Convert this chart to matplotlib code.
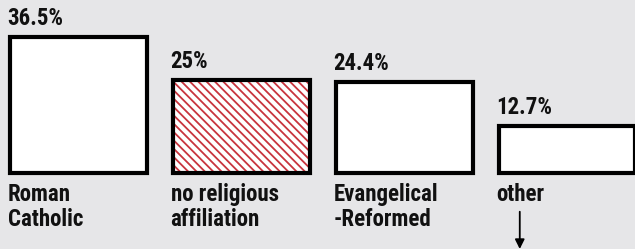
import matplotlib
matplotlib.use("Agg")
import matplotlib.pyplot as plt

categories = ["Roman\nCatholic", "no religious\naffiliation", "Evangelical\n-Reformed", "other"]
values = [36.5, 25.0, 24.4, 12.7]
value_labels = ["36.5%", "25%", "24.4%", "12.7%"]
hatched = [False, True, False, False]

BG = "#e6e6e8"
RED = "#c8343e"
FONT = ["Roboto Condensed", "DejaVu Sans"]
PX = 0.72  # points per pixel at 100 dpi

plt.rcParams["hatch.linewidth"] = 1.3

fig = plt.figure(figsize=(6.35, 2.49), dpi=100, facecolor=BG)
ax = fig.add_axes([0, 0, 1, 1])
ax.set_facecolor(BG)

x = list(range(len(values)))
width = 0.84

for xi, v, h in zip(x, values, hatched):
    if h:
        ax.bar(xi, v, width=width, color="white", edgecolor=RED, hatch="\\\\\\\\", linewidth=0)
        ax.bar(xi, v, width=width, fill=False, edgecolor="black", linewidth=3)
    else:
        ax.bar(xi, v, width=width, color="white", edgecolor="black", linewidth=3)

FS = 16.5
for xi, v, lab in zip(x, values, value_labels):
    ax.annotate(lab, xy=(xi - width / 2, v), xytext=(-1.5, 12 * PX), textcoords="offset points",
                ha="left", va="baseline", fontsize=FS, fontweight="bold",
                family=FONT, color="#111111")

for xi, cat in zip(x, categories):
    for i, line in enumerate(cat.split("\n")):
        ax.annotate(line, xy=(xi - width / 2, 0), xytext=(-1.5, -(28.5 + 25 * i) * PX),
                    textcoords="offset points", ha="left", va="baseline", fontsize=FS,
                    fontweight="bold", family=FONT, color="#111111")

# arrow below "other"
xo = x[-1] - width / 2 + 0.13
ax.annotate("", xy=(xo, -20.4), xytext=(xo, -10.4),
            arrowprops=dict(arrowstyle="-|>", color="black", lw=1.3,
                            mutation_scale=14, shrinkA=0, shrinkB=0))

ax.set_xlim(-0.479, 3.417)
ax.set_ylim(-20.4, 46.4)
ax.axis("off")

fig.savefig("out.png", dpi=100, facecolor=BG)
